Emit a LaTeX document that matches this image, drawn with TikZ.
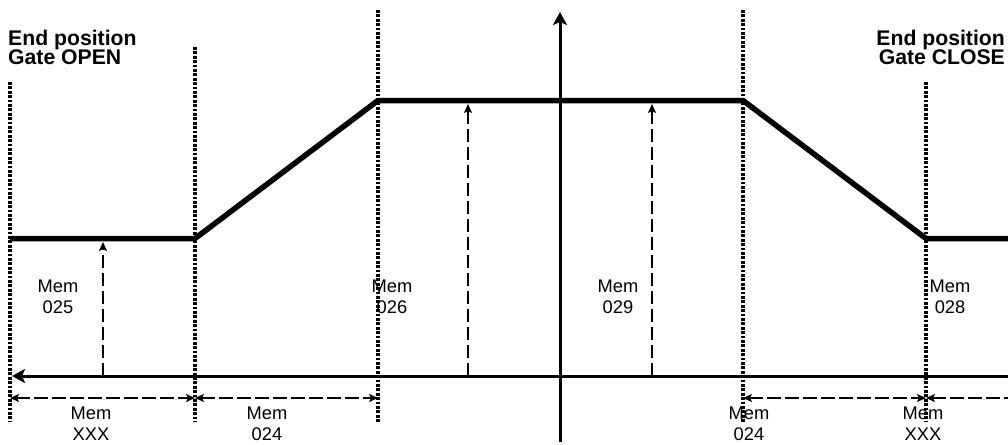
\documentclass[tikz,border=0pt]{standalone}
\usepackage{fontspec}
\setmainfont{Liberation Sans}
\usetikzlibrary{arrows.meta}
\begin{document}
\begin{tikzpicture}[x=1pt,y=-1pt,
  prof/.style={line width=5.5pt, line join=miter},
  axisln/.style={line width=3pt, -{Stealth[length=13pt,width=14pt,inset=3pt]}},
  dotln/.style={line width=3.2pt, dash pattern=on 2.8pt off 1.6pt},
  dashln/.style={line width=2.6pt, dash pattern=on 13.5pt off 4.5pt},
  dtip/.tip={Stealth[length=9pt,width=8pt,inset=2pt]},
  lbl/.style={font=\fontsize{18.3}{21}\selectfont, align=center, inner sep=0pt},
  ttl/.style={font=\bfseries\fontsize{21.2}{19.5}\selectfont, inner sep=0pt}]
\useasboundingbox (0,0) rectangle (1008,444);
% dotted guide lines
\coordinate (d1t) at (10,82);   \coordinate (d1b) at (10,422);
\coordinate (d2t) at (195,47);  \coordinate (d2b) at (195,422);
\coordinate (d3t) at (378,10);  \coordinate (d3b) at (378,422);
\coordinate (d4t) at (743,10);  \coordinate (d4b) at (743,422);
\coordinate (d5t) at (926,82);  \coordinate (d5b) at (926,422);
\foreach \i in {1,...,5} \draw[dotln] (d\i t) -- (d\i b);
% profile
\coordinate (p0) at (10,238.5);
\coordinate (p1) at (195,238.5);
\coordinate (p2) at (378,100.5);
\coordinate (p3) at (743,100.5);
\coordinate (p4) at (926,238.5);
\coordinate (p5) at (1008,238.5);
\draw[prof] (p0) -- (p1) -- (p2) -- (p3) -- (p4) -- (p5);
% axes
\coordinate (vb) at (560,442); \coordinate (vt) at (560,12);
\coordinate (hr) at (1008,376); \coordinate (hl) at (12,376);
\draw[axisln] (vb) -- (vt);
\draw[axisln] (hr) -- (hl);
% dashed up arrows
\coordinate (a1b) at (103,376); \coordinate (a1t) at (103,242);
\coordinate (a2b) at (468,376); \coordinate (a2t) at (468,104);
\coordinate (a3b) at (652,376); \coordinate (a3t) at (652,104);
\foreach \i in {1,2,3} \draw[dashln,-dtip] (a\i b) -- (a\i t);
% dimension arrows
\coordinate (m1) at (10,398);
\coordinate (m2) at (195,398);
\coordinate (m3) at (378,398);
\coordinate (m4) at (743,398);
\coordinate (m5) at (926,398);
\coordinate (m6) at (1008,398);
\draw[dashln,dtip-dtip] (m1) -- (m2);
\draw[dashln,dtip-dtip] (m2) -- (m3);
\draw[dashln,dtip-dtip] (m4) -- (m5);
\draw[dashln,dtip-] (m5) -- (m6);
% labels
\node[lbl] (l025) at (58,296.5) {Mem\\025};
\node[lbl] (l026) at (392,296.5) {Mem\\026};
\node[lbl] (l029) at (618,296.5) {Mem\\029};
\node[lbl] (l028) at (950,296.5) {Mem\\028};
\node[lbl] (bx1) at (91,424) {Mem\\XXX};
\node[lbl] (b241) at (267,424) {Mem\\024};
\node[lbl] (b242) at (749,424) {Mem\\024};
\node[lbl] (bx2) at (923,424) {Mem\\XXX};
\node[ttl, anchor=north west, align=left] (topen) at (8,29.5) {End position\\Gate OPEN};
\node[ttl, anchor=north east, align=right] (tclose) at (1005,29.5) {End position\\Gate CLOSE};
\end{tikzpicture}
\end{document}
